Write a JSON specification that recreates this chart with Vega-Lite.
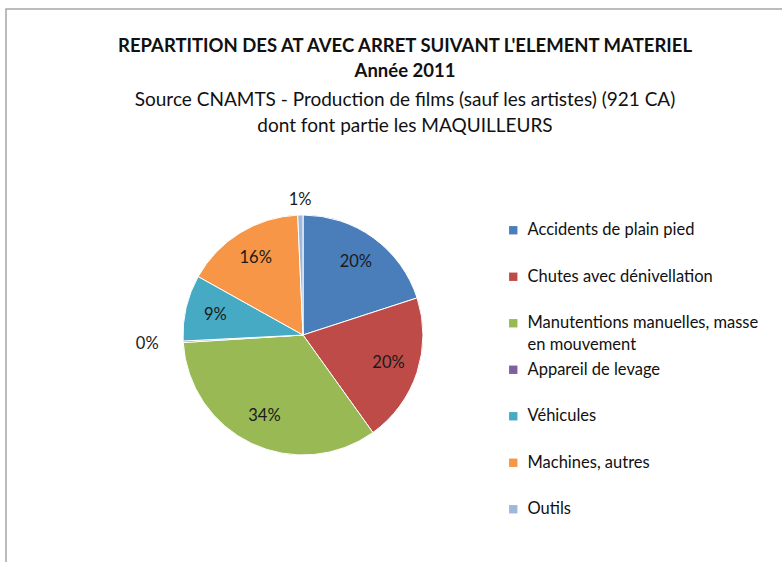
{
  "$schema": "https://vega.github.io/schema/vega-lite/v6.json",
  "width": 780,
  "height": 556,
  "autosize": {"type": "none"},
  "padding": {"left": 6, "top": 9, "right": 0, "bottom": 0},
  "background": "white",
  "view": {"stroke": "#a6a6a6", "strokeWidth": 1.5, "fill": "white"},
  "config": {
    "font": "Lato",
    "style": {"guide-label": {"lineHeight": 22}}
  },
  "title": {
    "text": ["REPARTITION DES AT AVEC ARRET SUIVANT L'ELEMENT MATERIEL", "Année 2011"],
    "subtitle": ["Source CNAMTS - Production de films (sauf les artistes) (921 CA)", "dont font partie les MAQUILLEURS"],
    "anchor": "start",
    "dx": 399,
    "align": "center",
    "offset": -127,
    "font": "Lato",
    "fontSize": 18.5,
    "fontWeight": "bold",
    "lineHeight": 25,
    "color": "#111111",
    "subtitleFont": "Lato",
    "subtitleFontSize": 19,
    "subtitleColor": "#111111",
    "subtitlePadding": 11,
    "subtitleLineHeight": 26
  },
  "data": {
    "values": [
      {"k": 1, "category": "Accidents de plain pied", "value": 20.0, "label": "20%"},
      {"k": 2, "category": "Chutes avec dénivellation", "value": 20.1, "label": "20%"},
      {"k": 3, "category": "Manutentions manuelles, masse en mouvement", "value": 33.9, "label": "34%"},
      {"k": 4, "category": "Appareil de levage", "value": 0.2, "label": "0%"},
      {"k": 5, "category": "Véhicules", "value": 8.9, "label": "9%"},
      {"k": 6, "category": "Machines, autres", "value": 16.2, "label": "16%"},
      {"k": 7, "category": "Outils", "value": 0.7, "label": "1%"}
    ]
  },
  "encoding": {
    "theta": {"field": "value", "type": "quantitative", "stack": true},
    "order": {"field": "k", "type": "quantitative"}
  },
  "layer": [
    {
      "mark": {"type": "arc", "outerRadius": 120, "x": 297, "y": 326, "stroke": "white", "strokeWidth": 1},
      "encoding": {
        "color": {
          "field": "category",
          "type": "nominal",
          "scale": {
            "domain": ["Accidents de plain pied", "Chutes avec dénivellation", "Manutentions manuelles, masse en mouvement", "Appareil de levage", "Véhicules", "Machines, autres", "Outils"],
            "range": ["#4A7EBB", "#BE4B48", "#98B954", "#7D60A0", "#46AAC5", "#F79646", "#9DB8DC"]
          },
          "legend": {
            "orient": "none",
            "legendX": 499,
            "legendY": 213,
            "title": null,
            "symbolType": "square",
            "symbolSize": 70,
            "symbolStrokeWidth": 0,
            "labelFont": "Lato",
            "labelFontSize": 16.5,
            "labelColor": "#111111",
            "labelOffset": 6,
            "labelLimit": 300,
            "gridAlign": "all",
            "rowPadding": 7.5,
            "labelExpr": "datum.label == 'Manutentions manuelles, masse en mouvement' ? ['Manutentions manuelles, masse', 'en mouvement'] : datum.label"
          }
        }
      }
    },
    {
      "mark": {"type": "text", "radius": 90, "x": 297, "y": 326, "font": "Lato", "fontSize": 16.5},
      "encoding": {
        "text": {"condition": {"test": "datum.value >= 5", "field": "label"}, "value": ""},
        "color": {"value": "#1a1a1a"}
      }
    },
    {
      "mark": {"type": "text", "radius": 135, "x": 297, "y": 326, "font": "Lato", "fontSize": 16.5},
      "encoding": {
        "text": {"condition": {"test": "datum.value < 5 && datum.value >= 0.5", "field": "label"}, "value": ""},
        "color": {"value": "#1a1a1a"}
      }
    },
    {
      "mark": {"type": "text", "radius": 156, "x": 297, "y": 326, "font": "Lato", "fontSize": 16.5},
      "encoding": {
        "text": {"condition": {"test": "datum.value < 0.5", "field": "label"}, "value": ""},
        "color": {"value": "#1a1a1a"}
      }
    }
  ]
}
